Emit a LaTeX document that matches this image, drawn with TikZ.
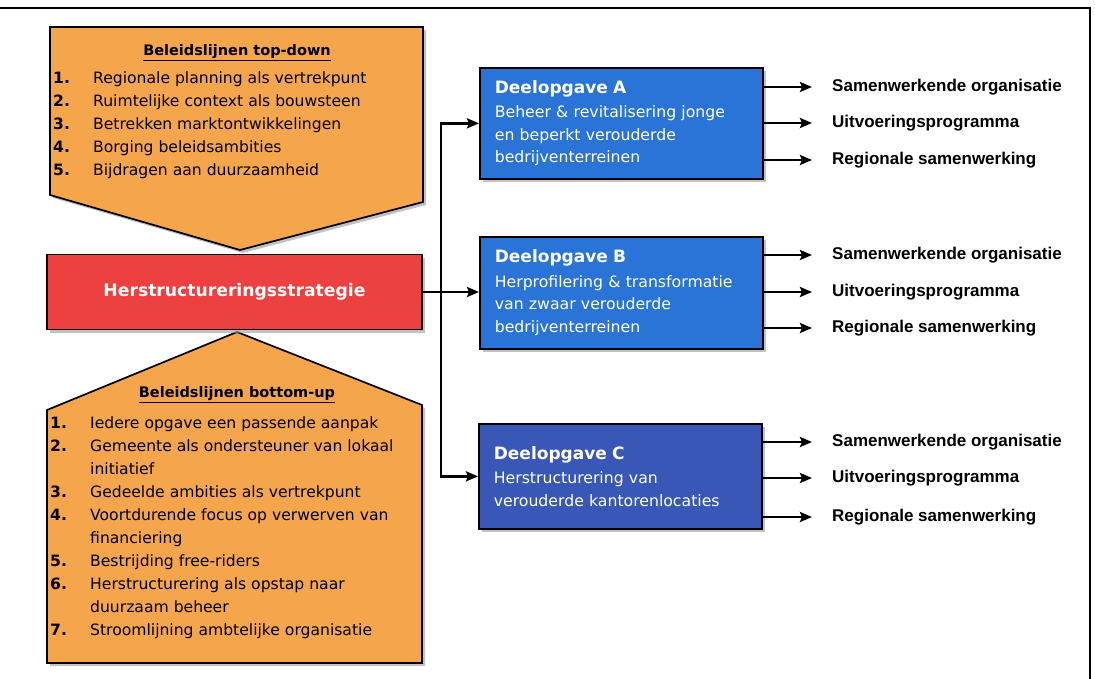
\documentclass[tikz,border=0pt]{standalone}
\usepackage{fontspec}
\setmainfont{DejaVu Sans}
\newfontfamily\labelfont{Liberation Sans}
\usetikzlibrary{arrows.meta,shadows}
\definecolor{oranje}{HTML}{F5A54B}
\definecolor{rood}{HTML}{EC4140}
\definecolor{blauw}{HTML}{2A74D8}
\definecolor{donkerblauw}{HTML}{3857B6}

\begin{document}
\begin{tikzpicture}[x=1pt,y=-1pt,
  vlak/.style={draw=black,line width=1.7pt,drop shadow={shadow xshift=3pt,shadow yshift=-3pt,fill=black!40,opacity=.6}},
  deel/.style={vlak,anchor=north west,text width=253pt,inner xsep=15pt,align=left,text=white,font=\fontsize{15.7}{22.5}\selectfont},
  kop/.style={font=\bfseries\fontsize{14.5}{16}\selectfont},
  lijst/.style={anchor=west,inner sep=0pt,font=\fontsize{15.6}{23}\selectfont},
  uitkomst/.style={anchor=west,inner sep=0pt,font=\labelfont\bfseries\fontsize{17}{18}\selectfont},
  pijl/.style={line width=2.8pt,-{Stealth[length=12pt,width=10pt,inset=2pt]}}]
\useasboundingbox (0,0) rectangle (1095,679);
\draw[line width=1.4pt] (0,8) -- (1090,8) -- (1090,679);

\draw[vlak,fill=oranje] (50,27) -- (423,27) -- (423,202) -- (240,250) -- (50,195) -- cycle;
\node[kop] (kopTD) at (237,53) {\underline{Beleidslijnen top-down}};
\node[lijst] (lijstTD) at (53,125) {\begin{tabular}{@{}p{40pt}@{}l@{}}
\textbf{1.} & Regionale planning als vertrekpunt\\
\textbf{2.} & Ruimtelijke context als bouwsteen\\
\textbf{3.} & Betrekken marktontwikkelingen\\
\textbf{4.} & Borging beleidsambities\\
\textbf{5.} & Bijdragen aan duurzaamheid
\end{tabular}};

\draw[vlak,fill=oranje] (237,332) -- (422,405) -- (422,663) -- (47,663) -- (47,410) -- cycle;
\node[kop] (kopBU) at (237,395) {\underline{Beleidslijnen bottom-up}};
\node[lijst] (lijstBU) at (50,527) {\begin{tabular}{@{}p{40pt}@{}l@{}}
\textbf{1.} & Iedere opgave een passende aanpak\\
\textbf{2.} & Gemeente als ondersteuner van lokaal\\
 & initiatief\\
\textbf{3.} & Gedeelde ambities als vertrekpunt\\
\textbf{4.} & Voortdurende focus op verwerven van\\
 & financiering\\
\textbf{5.} & Bestrijding free-riders\\
\textbf{6.} & Herstructurering als opstap naar\\
 & duurzaam beheer\\
\textbf{7.} & Stroomlijning ambtelijke organisatie
\end{tabular}};

\node[vlak,fill=rood,minimum width=375pt,minimum height=75pt,text=white,font=\bfseries\fontsize{17.2}{20}\selectfont] (strat) at (234.5,292) {Herstructureringsstrategie};

\node[deel,fill=blauw,minimum height=111pt] (A) at (479,67) {{\bfseries\fontsize{17}{20}\selectfont Deelopgave A}\\[2pt]
Beheer \& revitalisering jonge\\en beperkt verouderde\\bedrijventerreinen};
\node[deel,fill=blauw,minimum height=112pt] (B) at (479,236) {{\bfseries\fontsize{17}{20}\selectfont Deelopgave B}\\[2pt]
Herprofilering \& transformatie\\van zwaar verouderde\\bedrijventerreinen};
\node[deel,fill=donkerblauw,minimum height=105pt] (C) at (478,423) {{\bfseries\fontsize{17}{20}\selectfont Deelopgave C}\\[2pt]
Herstructurering van\\verouderde kantorenlocaties\\[12pt]};

\coordinate (split) at (441,292);
\draw[pijl] (strat.east) -- (strat.east -| B.west);
\draw[pijl] (split) |- (A.west);
\draw[pijl] (split) |- (C.west);

\node[uitkomst] (samA) at (832,87) {Samenwerkende organisatie};
\node[uitkomst] (uitA) at (832,123) {Uitvoeringsprogramma};
\node[uitkomst] (regA) at (832,160) {Regionale samenwerking};
\node[uitkomst] (samB) at (832,255) {Samenwerkende organisatie};
\node[uitkomst] (uitB) at (832,292) {Uitvoeringsprogramma};
\node[uitkomst] (regB) at (832,328) {Regionale samenwerking};
\node[uitkomst] (samC) at (832,442) {Samenwerkende organisatie};
\node[uitkomst] (uitC) at (832,478) {Uitvoeringsprogramma};
\node[uitkomst] (regC) at (832,517) {Regionale samenwerking};

\draw[pijl] (A.east |- samA) -- ([xshift=-20pt]samA.west);
\draw[pijl] (A.east |- uitA) -- ([xshift=-20pt]uitA.west);
\draw[pijl] (A.east |- regA) -- ([xshift=-20pt]regA.west);
\draw[pijl] (B.east |- samB) -- ([xshift=-20pt]samB.west);
\draw[pijl] (B.east |- uitB) -- ([xshift=-20pt]uitB.west);
\draw[pijl] (B.east |- regB) -- ([xshift=-20pt]regB.west);
\draw[pijl] (C.east |- samC) -- ([xshift=-20pt]samC.west);
\draw[pijl] (C.east |- uitC) -- ([xshift=-20pt]uitC.west);
\draw[pijl] (C.east |- regC) -- ([xshift=-20pt]regC.west);
\end{tikzpicture}
\end{document}
